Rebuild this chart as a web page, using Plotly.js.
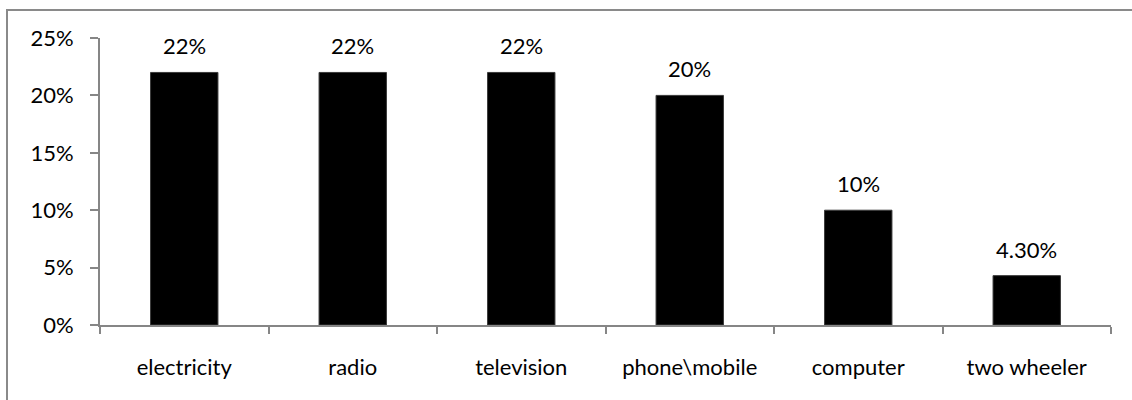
<!DOCTYPE html>
<html>
<head>
<meta charset="utf-8">
<script src="https://cdn.plot.ly/plotly-3.0.1.min.js"></script>
<style>
  html, body { margin: 0; padding: 0; background: #fff; overflow: hidden; }
  #wrap { position: relative; width: 1132px; height: 400px; overflow: hidden; }
  #chart { width: 1132px; height: 400px; }
  #frame {
    position: absolute; left: 6px; top: 9px; width: 1300px; height: 500px;
    border: 2px solid #8a8a8a; pointer-events: none; box-sizing: border-box;
  }
</style>
</head>
<body>
<div id="wrap">
  <div id="chart"></div>
  <div id="frame"></div>
</div>
<script>
// Share of households owning each item
const categories = ['electricity', 'radio', 'television', 'phone\\mobile', 'computer', 'two wheeler'];
const shares = [0.22, 0.22, 0.22, 0.20, 0.10, 0.043];
const shareLabels = ['22%', '22%', '22%', '20%', '10%', '4.30%'];
const yTickValues = [0, 0.05, 0.10, 0.15, 0.20, 0.25];

const FONT = 'Lato, "Open Sans", sans-serif';
const FONT_SIZE = 22;
const AXIS_GREY = '#868686';

const trace = {
  type: 'bar',
  x: categories,
  y: shares,
  width: 0.4,
  marker: { color: '#000000', line: { color: '#3a3a3a', width: 1 } },
  hoverinfo: 'skip'
};

const annotations = categories.map((c, i) => ({
  x: c,
  y: shares[i],
  xref: 'x',
  yref: 'y',
  text: shareLabels[i],
  showarrow: false,
  yanchor: 'bottom',
  yshift: 11,
  font: { family: FONT, size: FONT_SIZE, color: '#000' }
}));

const layout = {
  width: 1132,
  height: 400,
  margin: { l: 100, r: 21, t: 38, b: 75 },
  paper_bgcolor: '#ffffff',
  plot_bgcolor: '#ffffff',
  showlegend: false,
  font: { family: FONT, size: FONT_SIZE, color: '#000' },
  xaxis: {
    type: 'category',
    showline: true,
    linecolor: AXIS_GREY,
    linewidth: 2,
    ticks: 'outside',
    tickson: 'boundaries',
    ticklen: 7,
    tickcolor: AXIS_GREY,
    tickwidth: 2,
    showgrid: false,
    ticklabelstandoff: 22,
    tickfont: { family: FONT, size: FONT_SIZE, color: '#000' }
  },
  yaxis: {
    range: [0, 0.25],
    tickvals: yTickValues,
    tickformat: '.0%',
    showline: true,
    linecolor: AXIS_GREY,
    linewidth: 2,
    ticks: 'outside',
    ticklen: 8,
    tickcolor: AXIS_GREY,
    tickwidth: 2,
    showgrid: false,
    zeroline: false,
    ticklabelstandoff: 12,
    tickfont: { family: FONT, size: FONT_SIZE, color: '#000' }
  },
  annotations: annotations
};

Plotly.newPlot('chart', [trace], layout, { staticPlot: true, displayModeBar: false });
</script>
</body>
</html>
